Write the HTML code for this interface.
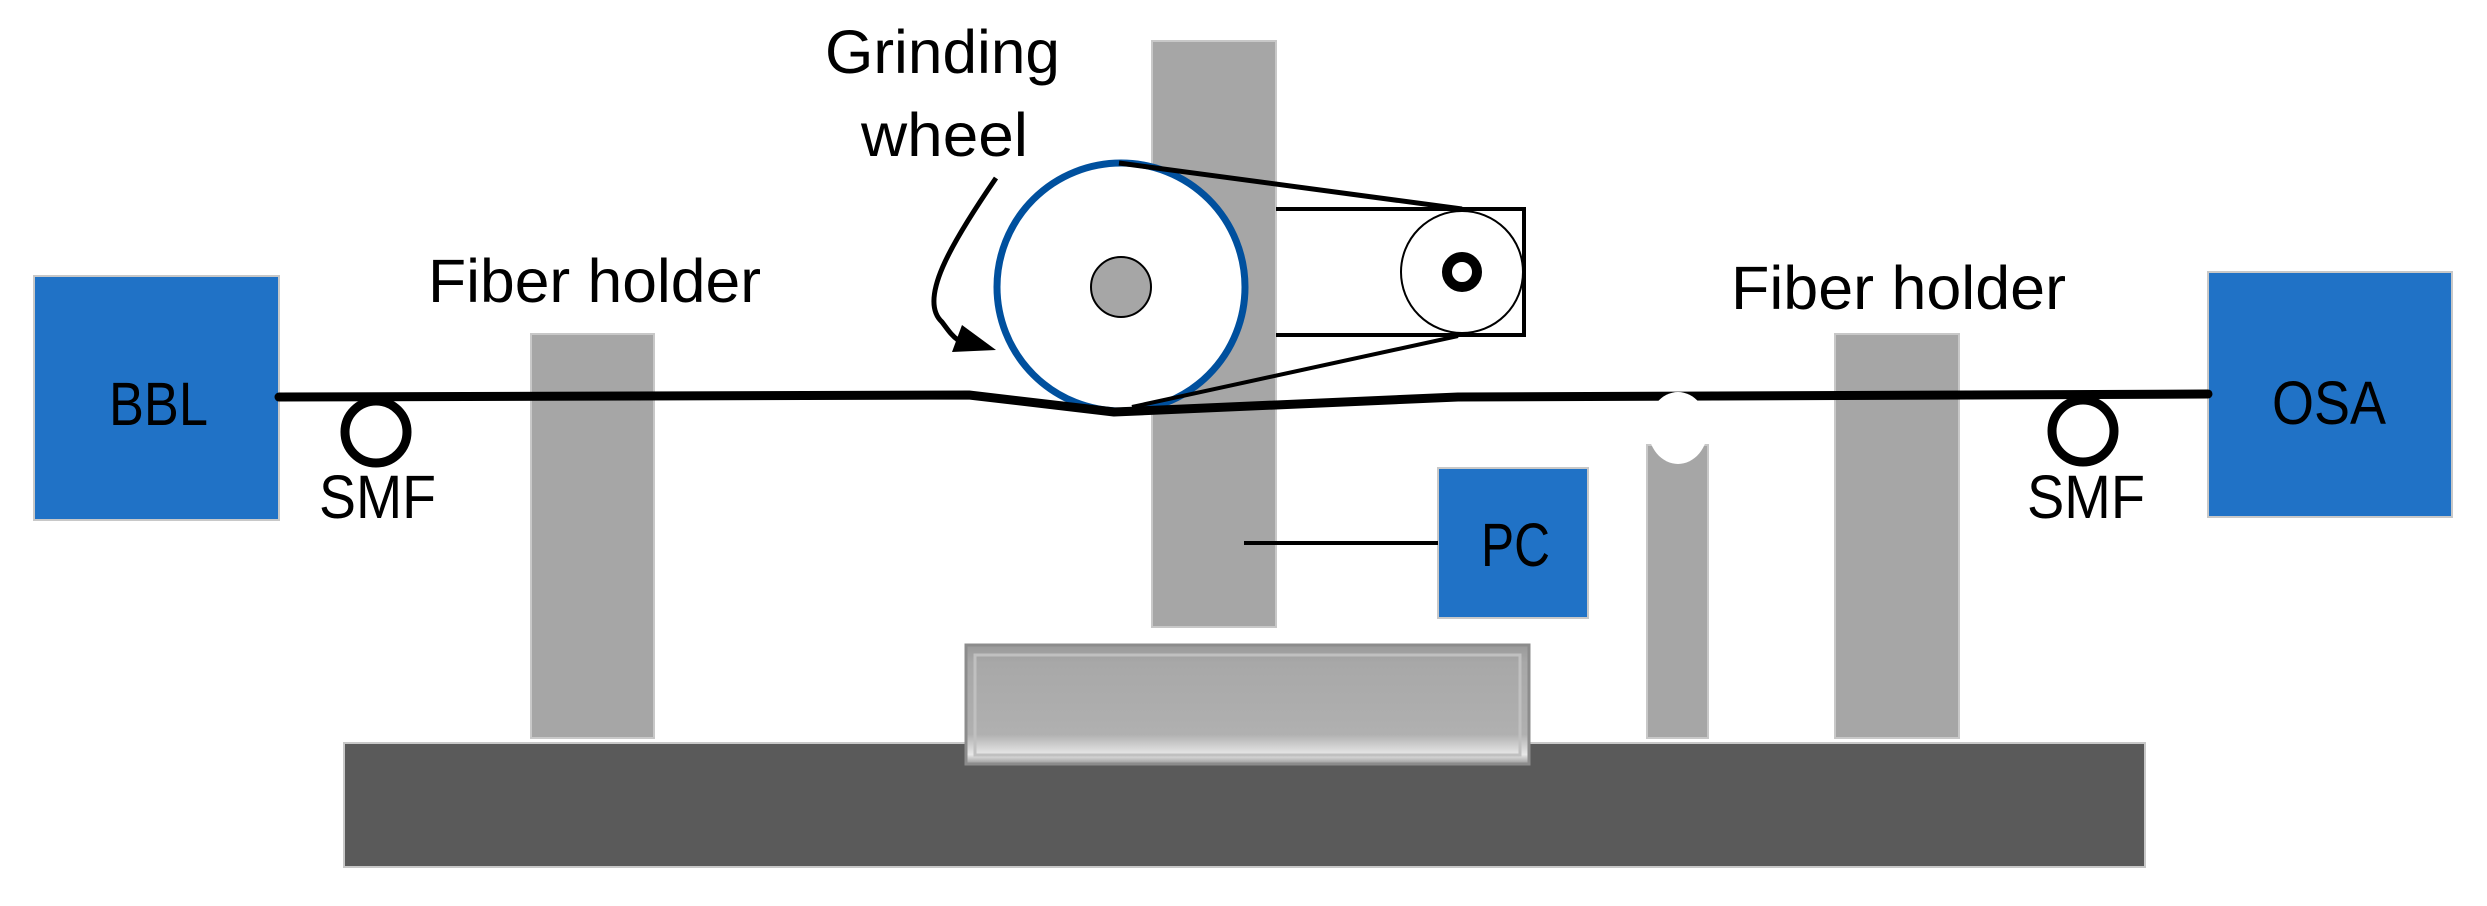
<!DOCTYPE html>
<html><head><meta charset="utf-8"><style>
html,body{margin:0;padding:0;background:#fff;}
svg{display:block;}
text{font-family:"Liberation Sans",sans-serif;font-size:61px;fill:#000;}
</style></head><body>
<svg width="2487" height="906" viewBox="0 0 2487 906" xmlns="http://www.w3.org/2000/svg">
<defs>
<linearGradient id="tg" x1="0" y1="0" x2="0" y2="1">
<stop offset="0" stop-color="#9a9a9a"/><stop offset="0.15" stop-color="#a8a8a8"/><stop offset="0.75" stop-color="#b0b0b0"/><stop offset="0.92" stop-color="#e8e8e8"/><stop offset="1" stop-color="#9a9a9a"/>
</linearGradient>
</defs>
<rect x="344" y="743" width="1801" height="124" fill="#5a5a5a" stroke="#c8c8c8" stroke-width="2"/>
<rect x="531" y="334" width="123" height="404" fill="#a6a6a6" stroke="#c8c8c8" stroke-width="2"/>
<rect x="1835" y="334" width="124" height="404" fill="#a6a6a6" stroke="#c8c8c8" stroke-width="2"/>
<rect x="1152" y="41" width="124" height="586" fill="#a6a6a6" stroke="#c8c8c8" stroke-width="2"/>
<rect x="1647" y="445" width="61" height="293" fill="#a6a6a6" stroke="#c8c8c8" stroke-width="2"/>
<rect x="966" y="645" width="563" height="119" fill="url(#tg)" stroke="#8c8c8c" stroke-width="3"/>
<rect x="975" y="655" width="545" height="100" fill="none" stroke="#c0c0c0" stroke-width="3"/>
<rect x="34" y="276" width="245" height="244" fill="#2072c6" stroke="#c8c8c8" stroke-width="2"/>
<rect x="2208" y="272" width="244" height="245" fill="#2072c6" stroke="#c8c8c8" stroke-width="2"/>
<rect x="1438" y="468" width="150" height="150" fill="#2072c6" stroke="#c8c8c8" stroke-width="2"/>
<line x1="1244" y1="543" x2="1438" y2="543" stroke="#000" stroke-width="4"/>
<polyline points="1276,209 1524,209 1524,335 1276,335" fill="none" stroke="#000" stroke-width="4"/>
<circle cx="1462" cy="272" r="61" fill="#fff" stroke="#000" stroke-width="2"/>
<circle cx="1462" cy="272" r="15" fill="none" stroke="#000" stroke-width="10"/>
<circle cx="1121" cy="287" r="124" fill="#fff" stroke="#00509e" stroke-width="7"/>
<circle cx="1121" cy="287" r="30" fill="#a6a6a6" stroke="#000" stroke-width="2"/>
<line x1="1119" y1="163" x2="1462" y2="209" stroke="#000" stroke-width="5"/>
<line x1="1132" y1="407" x2="1458" y2="336" stroke="#000" stroke-width="4"/>
<polyline points="279,397 969,395 1114,412 1458,397 2208,394" fill="none" stroke="#000" stroke-width="9" stroke-linejoin="round" stroke-linecap="round"/>
<ellipse cx="1678" cy="428" rx="30" ry="36" fill="#fff"/>
<circle cx="376" cy="432" r="31" fill="none" stroke="#000" stroke-width="9"/>
<circle cx="2083" cy="431" r="31" fill="none" stroke="#000" stroke-width="9"/>
<path d="M996,178 C950,245 918,300 942,322 C948,330 952,336 958,340" fill="none" stroke="#000" stroke-width="5"/>
<polygon points="962,325 952,352 996,350" fill="#000"/>
<text x="825" y="73" textLength="235" lengthAdjust="spacingAndGlyphs">Grinding</text>
<text x="861" y="156" textLength="167" lengthAdjust="spacingAndGlyphs">wheel</text>
<text x="428" y="302" textLength="333" lengthAdjust="spacingAndGlyphs">Fiber holder</text>
<text x="1731" y="309" textLength="335" lengthAdjust="spacingAndGlyphs">Fiber holder</text>
<text x="109" y="425" textLength="99" lengthAdjust="spacingAndGlyphs">BBL</text>
<text x="2272" y="424" textLength="114" lengthAdjust="spacingAndGlyphs">OSA</text>
<text x="1481" y="566" textLength="69" lengthAdjust="spacingAndGlyphs">PC</text>
<text x="319" y="518" textLength="117" lengthAdjust="spacingAndGlyphs">SMF</text>
<text x="2027" y="518" textLength="118" lengthAdjust="spacingAndGlyphs">SMF</text>
</svg>
</body></html>
